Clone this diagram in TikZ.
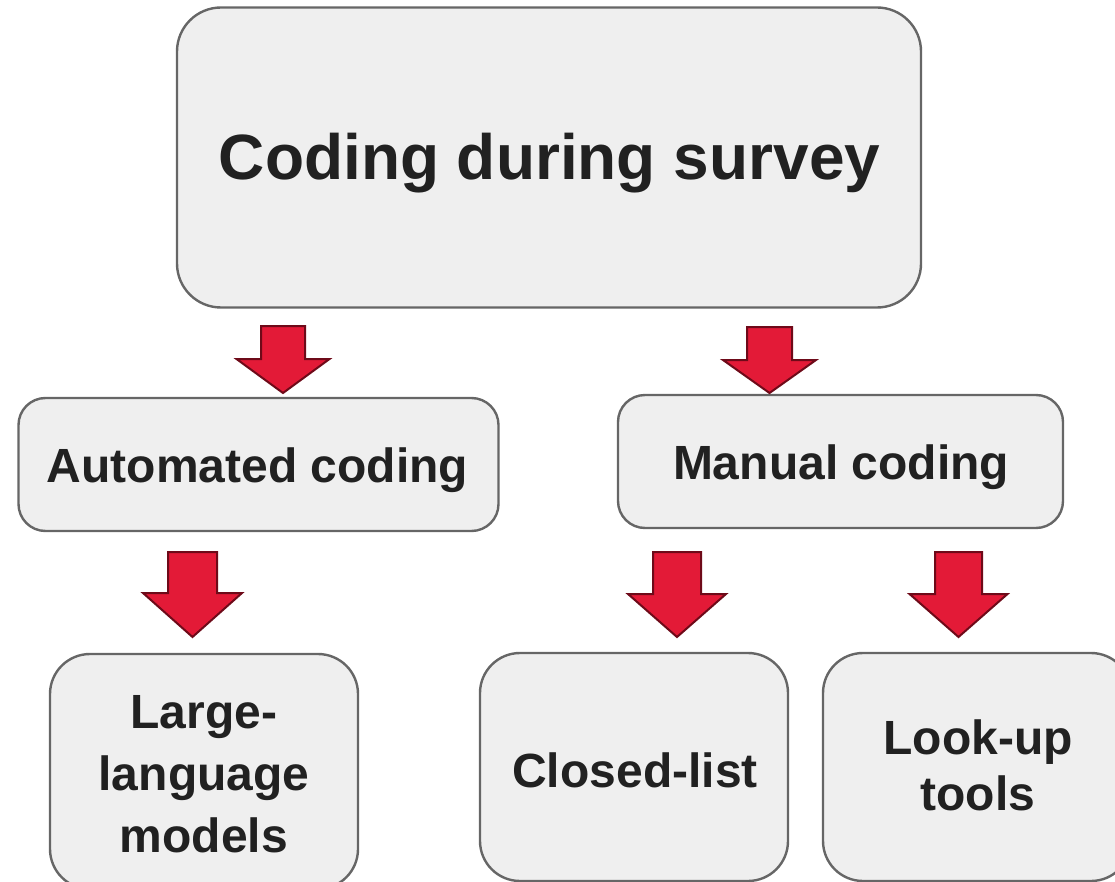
\documentclass[tikz,border=0pt]{standalone}
\usepackage{fontspec}
\setmainfont{Liberation Sans}
\definecolor{boxfill}{HTML}{EFEFEF}
\definecolor{boxline}{HTML}{666666}
\definecolor{arrfill}{HTML}{E31A37}
\definecolor{arrline}{HTML}{6E0A19}
\definecolor{txtcol}{HTML}{212121}
\tikzset{
  box/.style={draw=boxline, fill=boxfill, line width=2.4pt, inner sep=0pt},
  label text/.style={text=txtcol, inner sep=0pt, font=\bfseries\fontsize{48}{58}\selectfont},
  title text/.style={text=txtcol, inner sep=0pt, font=\bfseries\fontsize{64}{76}\selectfont},
  arrowbody/.style={fill=arrfill, draw=arrline, line width=2pt, line join=miter},
}
% cx, top, shaft half width, head y, head half width, tip y
\newcommand{\blockarrow}[6]{%
  \draw[arrowbody] ({#1-#3},#2) -- ({#1+#3},#2) -- ({#1+#3},#4) -- ({#1+#5},#4)
    -- (#1,#6) -- ({#1-#5},#4) -- ({#1-#3},#4) -- cycle;}
\begin{document}
\begin{tikzpicture}[x=1pt, y=-1pt]
\useasboundingbox (0,0) rectangle (1115,882);
% boxes
\node[box, minimum width=744pt, minimum height=300pt, rounded corners=44pt] (top) at (549,157.5) {};
\node[box, minimum width=480pt, minimum height=133pt, rounded corners=27pt] (auto) at (258.5,464.5) {};
\node[box, minimum width=445pt, minimum height=133pt, rounded corners=27pt] (manual) at (840.5,461.5) {};
\node[box, minimum width=308pt, minimum height=235pt, rounded corners=40pt] (llm) at (204,771.5) {};
\node[box, minimum width=308pt, minimum height=228pt, rounded corners=40pt] (closed) at (634,767) {};
\node[box, minimum width=308pt, minimum height=228pt, rounded corners=40pt] (lookup) at (977,767) {};
% texts
\node[title text, anchor=base] (toptxt) at (549.5,180) {Coding during survey};
\node[label text, anchor=base] (autotxt) at (257.5,482) {Automated coding};
\node[label text, anchor=base] (manualtxt) at (841,479) {Manual coding};
\node[label text, anchor=base] (closedtxt) at (635,787) {Closed-list};
\node[label text, align=center, font=\bfseries\fontsize{48}{62}\selectfont] (llmtxt) at (204,774) {Large-\\language\\models};
\node[label text, align=center, font=\bfseries\fontsize{48}{56}\selectfont] (lookuptxt) at (978,765) {Look-up\\tools};
% block arrows
\blockarrow{283}{326}{22}{359}{46.5}{393}
\blockarrow{769.5}{327}{22.5}{360}{46.5}{393}
\blockarrow{192.5}{552}{24.5}{593}{49.5}{637}
\blockarrow{677}{552}{24}{594}{49}{637}
\blockarrow{958.5}{552}{23.5}{594}{49}{637}
\end{tikzpicture}
\end{document}
